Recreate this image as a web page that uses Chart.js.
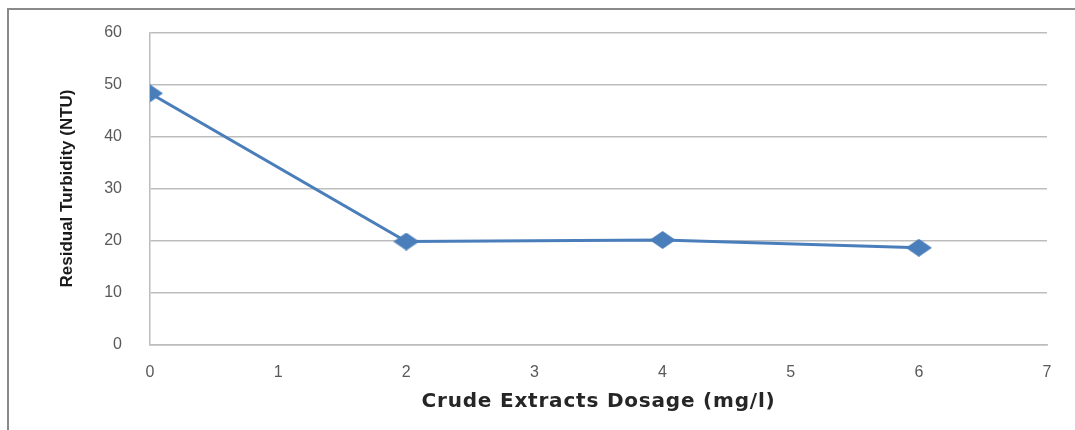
<!DOCTYPE html>
<html>
<head>
<meta charset="utf-8">
<script src="https://cdn.jsdelivr.net/npm/chart.js@4/dist/chart.umd.min.js"></script>
<style>
  html, body { margin: 0; padding: 0; background: #fff; }
  #wrap { position: relative; width: 1075px; height: 430px; overflow: hidden; }
  #frame { position: absolute; left: 7px; top: 8px; right: -5px; bottom: -5px;
           border-left: 2px solid #8a8a8a; border-top: 2px solid #8a8a8a; }
  canvas { position: absolute; left: 0; top: 0; }
</style>
</head>
<body>
<div id="wrap">
  <div id="frame"></div>
  <canvas id="c" width="1075" height="430"></canvas>
</div>
<script>
const dosage = [0, 2, 4, 6];
const turbidity = [48.3, 19.8, 20.1, 18.6];
const xTitle = 'Crude Extracts Dosage (mg/l)';
const yTitle = 'Residual Turbidity (NTU)';

const LINE = '#4A7EBB';

// flattened diamond marker
const marker = document.createElement('canvas');
marker.width = 26; marker.height = 18;
(function () {
  const g = marker.getContext('2d');
  g.fillStyle = LINE;
  g.beginPath();
  g.moveTo(13, 0); g.lineTo(26, 9); g.lineTo(13, 18); g.lineTo(0, 9);
  g.closePath(); g.fill();
})();

const tickFont = { family: "'Liberation Sans', Arial, sans-serif", size: 16 };

function spacedTitle(s, spacing) {
  if (s._spaced) return;
  const orig = s.drawTitle.bind(s);
  s.drawTitle = function () {
    const ctx = this.ctx;
    ctx.save();
    ctx.letterSpacing = spacing;
    orig();
    ctx.restore();
    ctx.letterSpacing = '0px';
  };
  s._spaced = true;
}

new Chart(document.getElementById('c'), {
  type: 'scatter',
  data: {
    datasets: [{
      data: dosage.map((x, i) => ({ x: x, y: turbidity[i] })),
      showLine: true,
      borderColor: LINE,
      backgroundColor: LINE,
      borderWidth: 3,
      pointStyle: marker,
      pointRadius: 9,
      pointHoverRadius: 9,
      tension: 0
    }]
  },
  options: {
    responsive: false,
    animation: false,
    devicePixelRatio: 1,
    layout: { padding: { left: 0, top: 32.5, right: 28, bottom: 0 } },
    plugins: { legend: { display: false }, tooltip: { enabled: false } },
    scales: {
      x: {
        type: 'linear',
        min: 0, max: 7,
        ticks: { stepSize: 1, color: '#595959', font: tickFont, padding: 18, maxRotation: 0 },
        grid: { display: false, drawTicks: false },
        border: { display: true, color: '#BDBDBD', width: 1.5 },
        title: {
          display: true, text: xTitle, color: '#262626',
          font: { family: "'DejaVu Sans', Arial, sans-serif", size: 20, weight: 'bold' },
          padding: { top: 0, bottom: 16 }
        },
        afterFit: (s) => {
          s.height = 430 - 344.5; s.paddingLeft = 0; s.paddingRight = 0;
          spacedTitle(s, '0.8px');
        }
      },
      y: {
        min: 0, max: 60,
        ticks: { stepSize: 10, color: '#595959', font: tickFont, padding: 28 },
        grid: { color: '#BDBDBD', lineWidth: 1.5, drawTicks: false },
        border: { display: true, color: '#BDBDBD', width: 1.5 },
        title: {
          display: true, text: yTitle, color: '#1a1a1a',
          font: { family: "'Liberation Sans Narrow', 'Liberation Sans', Arial, sans-serif", size: 17, weight: 'bold' },
          padding: { top: 57, bottom: 0 }
        },
        afterFit: (s) => { s.width = 150; s.paddingTop = 0; s.paddingBottom = 0; }
      }
    }
  }
});
</script>
</body>
</html>
